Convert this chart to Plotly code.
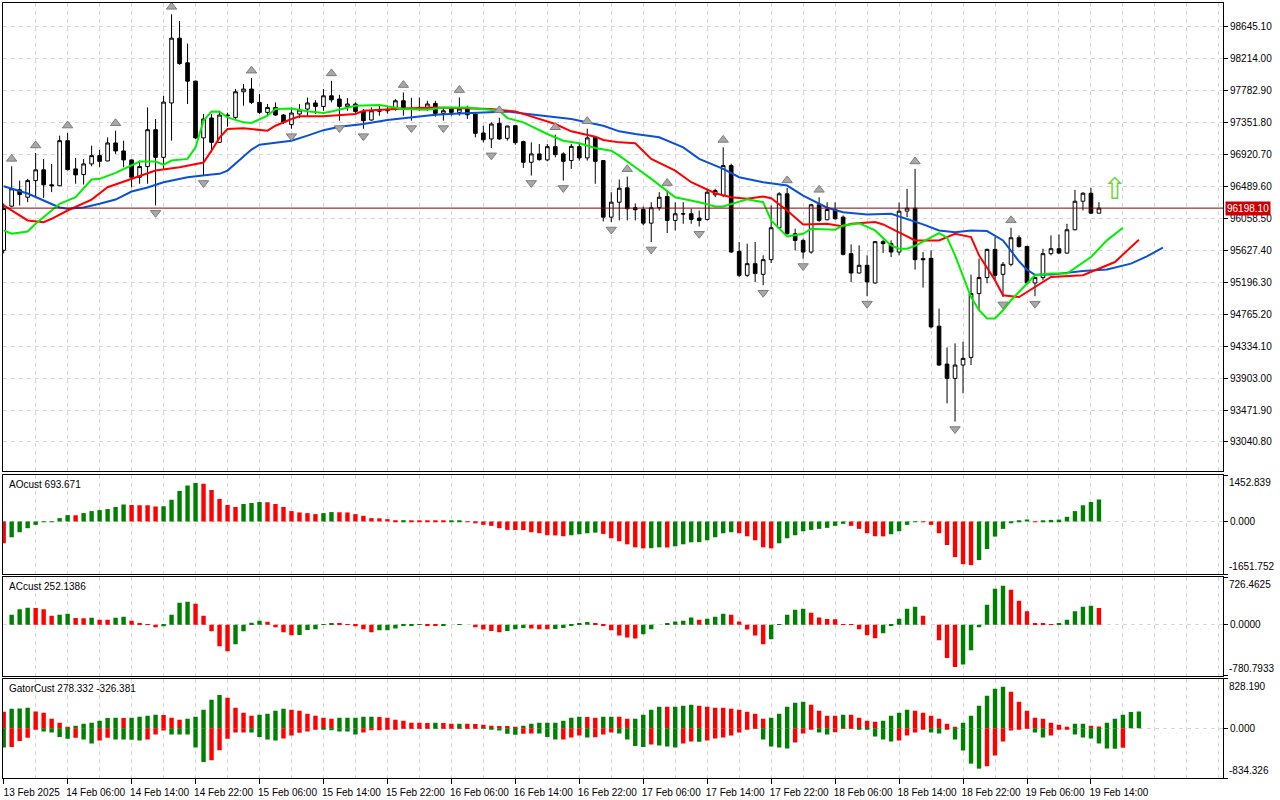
"""MT5 style H1 chart: candles, alligator, fractals and AO / AC / Gator panels."""

from __future__ import annotations

import pandas as pd
import plotly.graph_objects as go
from plotly.subplots import make_subplots

BAR_START = "2025-02-13 22:00"

OPEN = [
    95628, 96224, 96445, 96345, 96570, 96715, 96513, 96500, 97109, 96728,
    96651, 96795, 96907, 96835, 97078, 96970, 96849, 96615, 96759, 97257,
    96884, 97618, 98493, 98160, 97913, 97146, 97415, 97086, 97455, 97423,
    97769, 97806, 97626, 97491, 97558, 97455, 97325, 97469, 97536, 97618,
    97571, 97715, 97671, 97571, 97604, 97504, 97388, 97506, 97513, 97536,
    97648, 97536, 97544, 97558, 97612, 97477, 97536, 97491, 97558, 97469,
    97213, 97132, 97343, 97140, 97311, 97096, 96817, 96930, 96849, 97028,
    96930, 96840, 97028, 96876, 97154, 96840, 96076, 96278, 96472, 96203,
    96180, 95995, 96203, 96355, 96032, 96122, 96122, 96063, 96045, 96378,
    96368, 96773, 95614, 95291, 95448, 95304, 95502, 95933, 96391, 95852,
    95762, 95605, 96243, 96041, 96180, 96076, 95583, 95322, 95426, 95187,
    95745, 95718, 95605, 96157, 96197, 95516, 95520, 94604, 94092, 93899,
    94079, 94182, 95044, 95260, 95641, 95304, 95439, 95798, 95681, 95187,
    95260, 95583, 95650, 95591, 95906, 96291, 96399, 96130,
]
HIGH = [
    96261, 96763, 96570, 96593, 96944, 96863, 96795, 97177, 97213, 96876,
    96863, 97042, 96984, 97154, 97244, 97109, 96855, 96840, 97558, 97402,
    97715, 98816, 98726, 98420, 97920, 97469, 97469, 97513, 97486, 97806,
    97873, 97954, 97738, 97604, 97626, 97469, 97558, 97604, 97692, 97657,
    97806, 97917, 97729, 97684, 97626, 97536, 97558, 97604, 97567, 97671,
    97760, 97688, 97692, 97648, 97648, 97558, 97567, 97692, 97581, 97475,
    97311, 97356, 97419, 97311, 97320, 97109, 97086, 97064, 97064, 97190,
    96952, 97064, 97064, 97271, 97163, 96846, 96413, 96584, 96624, 96261,
    96220, 96278, 96413, 96436, 96278, 96278, 96193, 96166, 96459, 96459,
    97019, 96799, 95740, 95718, 95740, 95560, 96234, 96413, 96472, 95920,
    95785, 96256, 96345, 96278, 96278, 96099, 95708, 95695, 95560, 95753,
    95772, 95762, 96274, 96459, 96728, 95605, 95628, 94842, 94317, 94371,
    94393, 95300, 95516, 95650, 95807, 95470, 95933, 95830, 95688, 95268,
    95650, 95830, 95843, 95987, 96445, 96413, 96472, 96278,
]
LOW = [
    95587, 96211, 96234, 96278, 96345, 96337, 96413, 96497, 96705, 96527,
    96517, 96763, 96750, 96830, 96930, 96750, 96480, 96527, 96527, 96234,
    96728, 97109, 98133, 97604, 97132, 96638, 96952, 97078, 97298, 97402,
    97581, 97604, 97469, 97446, 97446, 97334, 97270, 97415, 97446, 97469,
    97513, 97626, 97379, 97513, 97469, 97270, 97379, 97446, 97473, 97513,
    97446, 97379, 97513, 97513, 97432, 97379, 97446, 97446, 97402, 97154,
    97086, 97011, 97122, 97109, 97055, 96741, 96638, 96840, 96830, 96884,
    96570, 96728, 96840, 96840, 96527, 96018, 96009, 96032, 96032, 96032,
    95964, 95740, 96166, 95861, 95897, 95987, 95987, 95951, 96032, 96345,
    96345, 95597, 95268, 95268, 95201, 95156, 95456, 95920, 95843, 95628,
    95516, 95583, 96009, 96032, 96045, 95560, 95201, 95314, 95008, 95179,
    95591, 95537, 95560, 96076, 95367, 95125, 94573, 94065, 93562, 93315,
    93697, 94079, 94819, 95183, 95223, 94998, 95412, 95664, 95179, 95008,
    95223, 95560, 95583, 95583, 95897, 96166, 96122, 96125,
]
CLOSE = [
    96193, 96459, 96382, 96570, 96715, 96513, 96500, 97109, 96718, 96647,
    96795, 96907, 96830, 97078, 96970, 96849, 96615, 96759, 97257, 96884,
    97630, 98493, 98150, 97913, 97146, 97402, 97086, 97455, 97446, 97769,
    97806, 97626, 97491, 97558, 97455, 97356, 97482, 97523, 97618, 97571,
    97715, 97661, 97571, 97604, 97504, 97379, 97513, 97513, 97527, 97648,
    97536, 97540, 97558, 97604, 97477, 97513, 97491, 97536, 97459, 97208,
    97122, 97334, 97132, 97307, 97082, 96817, 96930, 96853, 97028, 96921,
    96830, 97032, 96876, 97146, 96830, 96076, 96278, 96467, 96189, 96176,
    95995, 96203, 96345, 96032, 96122, 96119, 96045, 96032, 96413, 96436,
    96773, 95605, 95291, 95448, 95314, 95502, 95933, 96391, 95852, 95762,
    95605, 96243, 96032, 96180, 96054, 95574, 95322, 95426, 95201, 95745,
    95718, 95605, 96157, 96197, 95502, 95502, 94594, 94079, 93899, 94079,
    94169, 95044, 95260, 95641, 95291, 95439, 95798, 95681, 95187, 95260,
    95583, 95650, 95591, 95906, 96291, 96399, 96130, 96198.10,
]

# alligator lines, read at the listed bar numbers (they run past the last bar)
JAW_BARS = [
    0, 3, 5, 7, 8, 10, 12, 14, 16, 18, 20, 23, 26, 27, 28, 29, 30, 31, 32, 34,
    36, 38, 40, 42, 45, 48, 50, 54, 57, 60, 63, 65, 69, 71, 75, 77, 79, 82, 85, 87,
    90, 92, 95, 98, 100, 103, 105, 108, 111, 113, 115, 117, 119, 121, 123, 125, 126,
    127, 128, 129, 131, 135, 138, 141, 143, 145,
]
JAW = [
    96494, 96395, 96301, 96207, 96189, 96207, 96256, 96314, 96422, 96476,
    96548, 96615, 96651, 96661, 96705, 96799, 96894, 96988, 97055, 97082,
    97109, 97177, 97251, 97298, 97334, 97388, 97415, 97459, 97477, 97486,
    97504, 97477, 97432, 97402, 97311, 97235, 97199, 97154, 97019, 96863,
    96728, 96615, 96548, 96503, 96368, 96203, 96143, 96112, 96122, 96054,
    95978, 95897, 95874, 95897, 95888, 95762, 95628, 95480, 95365, 95298,
    95300, 95349, 95368, 95448, 95547, 95664,
]
TEETH_BARS = [
    0, 3, 5, 6, 8, 11, 13, 16, 19, 22, 24, 25, 26, 27, 28, 30, 33, 34, 36, 37,
    40, 41, 44, 45, 48, 50, 54, 58, 61, 64, 66, 69, 71, 74, 75, 77, 79, 81, 84, 86,
    89, 91, 93, 95, 96, 98, 100, 103, 105, 106, 109, 110, 112, 114, 117, 119, 121,
    122, 124, 125, 127, 129, 131, 135, 137, 139, 142,
]
TEETH = [
    96234, 96032, 96009, 96054, 96166, 96314, 96480, 96593, 96705, 96750,
    96786, 96813, 96974, 97150, 97267, 97275, 97244, 97311, 97402, 97439,
    97439, 97446, 97469, 97513, 97536, 97544, 97558, 97544, 97536, 97504,
    97432, 97334, 97235, 97163, 97119, 97086, 97073, 96863, 96705, 96548,
    96399, 96345, 96324, 96355, 96332, 96166, 95978, 95987, 95951, 95987,
    96009, 95978, 95870, 95762, 95762, 95852, 95807, 95560, 95223, 95021,
    94998, 95133, 95268, 95291, 95381, 95470, 95772,
]
LIPS_BARS = [
    0, 1, 3, 4, 7, 9, 11, 12, 14, 16, 17, 19, 20, 21, 23, 24, 25, 26, 27, 28,
    30, 31, 33, 34, 36, 38, 40, 41, 44, 47, 50, 53, 55, 58, 60, 62, 63, 65, 68, 70,
    72, 74, 76, 77, 79, 81, 84, 87, 89, 90, 93, 95, 96, 98, 100, 101, 104, 105, 107,
    109, 111, 112, 113, 114, 117, 118, 119, 120, 121, 122, 123, 124, 125, 126, 127,
    129, 131, 133, 136, 138, 140,
]
LIPS = [
    95897, 95852, 95883, 95987, 96256, 96345, 96584, 96593, 96674, 96773,
    96826, 96826, 96786, 96840, 96863, 97019, 97379, 97504, 97500, 97423,
    97356, 97348, 97446, 97536, 97544, 97507, 97482, 97504, 97581, 97590,
    97536, 97527, 97558, 97558, 97536, 97513, 97415, 97356, 97199, 97109,
    97073, 97011, 96974, 96907, 96750, 96593, 96345, 96278, 96220, 96220,
    96319, 96278, 96032, 95816, 95852, 95920, 95906, 95964, 95995, 95897,
    95695, 95650, 95650, 95688, 95861, 95799, 95560, 95291, 94998, 94819,
    94707, 94707, 94819, 94954, 95066, 95291, 95314, 95314, 95537, 95763,
    95933,
]

FRACTAL_UP_BARS = [1, 4, 8, 14, 21, 31, 41, 50, 57, 62, 69, 73, 78, 83, 90, 98, 102, 114, 126]
FRACTAL_DOWN_BARS = [19, 25, 36, 42, 45, 51, 55, 61, 66, 70, 76, 81, 87, 95, 100, 108, 119, 125, 129]

SIGNAL_BAR = 139
SIGNAL_PRICE = 96416

AO = [
    -686, -496, -338, -211, -106, -21, -5, 106, 200, 195,
    264, 327, 359, 391, 454, 538, 517, 512, 507, 475,
    480, 686, 961, 1130, 1214, 1183, 993, 707, 517, 454,
    549, 580, 612, 605, 549, 454, 327, 285, 264, 232,
    264, 296, 290, 285, 232, 179, 106, 100, 74, 40,
    42, 38, 35, 20, 15, 10, 12, 14, -5, -53,
    -106, -137, -211, -264, -268, -272, -338, -370, -433, -438,
    -465, -433, -401, -370, -350, -391, -528, -623, -718, -813,
    -845, -840, -813, -818, -781, -718, -655, -650, -591, -496,
    -370, -338, -370, -465, -591, -813, -845, -686, -528, -433,
    -306, -264, -232, -200, -137, -74, -137, -232, -370, -465,
    -468, -401, -306, -106, -15, -20, -106, -370, -739, -1119,
    -1341, -1373, -1214, -866, -475, -232, -53, 20, 63, 5,
    30, 50, 60, 148, 327, 507, 612, 693.671,
]
AC = [
    0, 152, 233, 259, 254, 233, 137, 152, 167, 101,
    99, 106, 76, 74, 106, 122, 61, 10, 8, -41,
    -25, 152, 335, 350, 320, 137, -102, -330, -406, -300,
    -102, 30, 60, 45, -41, -117, -162, -160, -81, -71,
    -5, 25, 20, -5, -25, -71, -117, -86, -84, -61,
    -20, -15, -5, -20, -22, -15, 0, 8, 0, -41,
    -76, -96, -117, -96, -71, -51, -61, -71, -72, -66,
    -51, -10, 15, 41, 25, -10, -86, -167, -198, -213,
    -147, -71, 0, 10, 46, 61, 107, 76, 91, 122,
    167, 152, 46, -76, -167, -299, -223, -5, 152, 228,
    244, 183, 107, 86, 84, 5, -2, -71, -162, -208,
    -132, -10, 91, 244, 274, 137, 0, -239, -508, -645,
    -609, -391, -41, 305, 548, 594, 533, 365, 203, 25,
    10, 5, 20, 76, 203, 274, 289, 252.1386,
]
GATOR_UP = [
    274, 325, 328, 342, 280, 258, 157, 90, 22, 39,
    73, 90, 123, 170, 175, 172, 176, 190, 207, 224,
    222, 174, 140, 157, 190, 308, 476, 554, 510, 342,
    258, 207, 224, 241, 291, 325, 308, 291, 241, 207,
    174, 157, 174, 175, 176, 190, 191, 189, 174, 140,
    123, 90, 89, 88, 90, 88, 73, 74, 73, 72,
    56, 39, 38, 37, 22, 39, 73, 90, 91, 92,
    123, 174, 190, 189, 174, 190, 191, 190, 157, 158,
    224, 308, 358, 357, 358, 375, 392, 375, 358, 342,
    341, 325, 308, 274, 241, 157, 174, 241, 358, 426,
    442, 392, 291, 207, 206, 224, 223, 174, 123, 106,
    123, 207, 258, 308, 291, 258, 207, 157, 73, 22,
    90, 207, 375, 543, 661, 694, 610, 442, 291, 174,
    157, 90, 56, 22, 73, 74, 39, 30, 90, 157,
    224, 270, 278.332,
]
GATOR_DOWN = [
    -325, -314, -213, -162, -11, -56, -73, -146, -179, -162,
    -190, -258, -207, -162, -190, -191, -192, -207, -190, -106,
    -39, -106, -107, -108, -325, -566, -538, -370, -179, -73,
    -72, -74, -146, -190, -207, -174, -123, -78, -56, -22,
    -23, -34, -56, -57, -106, -73, -34, -33, -25, -15,
    -8, -5, -5, -4, -6, -5, -4, -3, -3, -2,
    -4, -10, -39, -95, -112, -95, -88, -90, -146, -190,
    -189, -157, -123, -157, -150, -106, -73, -90, -190, -297,
    -314, -274, -291, -308, -325, -258, -224, -226, -207, -174,
    -157, -123, -73, -11, -3, -190, -308, -325, -342, -241,
    -90, -22, -73, -106, -67, -6, -3, -22, -23, -140,
    -190, -224, -207, -123, -73, -22, -73, -90, -22, -190,
    -375, -594, -678, -638, -459, -224, -39, -20, -5, -73,
    -157, -123, -22, -21, -106, -157, -174, -258, -342, -343,
    -326.381,
]

PRICE_TICKS = [
    98645.10, 98214.00, 97782.90, 97351.80, 96920.70, 96489.60, 96058.50,
    95627.40, 95196.30, 94765.20, 94334.10, 93903.00, 93471.90, 93040.80,
]
PRICE_RANGE = (92651, 98968)
AO_RANGE = (-1651.752, 1452.839)
AC_RANGE = (-780.7933, 726.4625)
GATOR_RANGE = (-834.326, 828.190)
TIME_LABELS = [
    "13 Feb 2025", "14 Feb 06:00", "14 Feb 14:00", "14 Feb 22:00", "15 Feb 06:00",
    "15 Feb 14:00", "15 Feb 22:00", "16 Feb 06:00", "16 Feb 14:00", "16 Feb 22:00",
    "17 Feb 06:00", "17 Feb 14:00", "17 Feb 22:00", "18 Feb 06:00", "18 Feb 14:00",
    "18 Feb 22:00", "19 Feb 06:00", "19 Feb 14:00",
]

GREEN = "#008000"
RED = "#ff0000"
JAW_COLOR = "#0a50d8"
TEETH_COLOR = "#ff0000"
LIPS_COLOR = "#00ee00"
FRACTAL_COLOR = "#a8a8a8"
PRICE_LINE = "#8c0000"
GRID_COLOR = "#d6d6d6"
GRID_DASH = "4px,4px"
FONT = "Liberation Sans"
HOUR_MS = 3_600_000
FRACTAL_GAP = 100  # price units between the extreme and the arrow centre

# panel heights in paper fractions (main, AO, AC, Gator)
DOMAINS = [(0.3964, 1.0), (0.2632, 0.3906), (0.1319, 0.2593), (0.0, 0.1281)]


def _hist_colors(values, use_abs: bool = False, first: str = RED) -> list[str]:
    """Green when the bar grows versus the previous one, red when it shrinks."""
    colors = []
    prev = None
    current = first
    for value in values:
        level = abs(value) if use_abs else value
        if prev is not None:
            if level > prev:
                current = GREEN
            elif level < prev:
                current = RED
        colors.append(current)
        prev = level
    return colors


def _panel_axis(fig, row: int, value_range, digits: int) -> None:
    lo, hi = value_range
    fig.update_yaxes(
        range=[lo, hi],
        tickmode="array",
        tickvals=[lo, 0, hi],
        ticktext=["", f"{0:.{digits}f}", ""],
        row=row,
        col=1,
    )
    yref = "y" if row == 1 else f"y{row}"
    for value, anchor in ((hi, "top"), (lo, "bottom")):
        fig.add_annotation(
            x=1, xref="paper", xanchor="left", xshift=4,
            y=value, yref=yref, yanchor=anchor,
            text=f"{value:.{digits}f}", showarrow=False,
            font={"size": 10, "family": FONT, "color": "#000000"},
        )


def _panel_title(fig, row: int, text: str) -> None:
    fig.add_annotation(
        x=0, xref="paper", xanchor="left", xshift=4,
        y=1, yref=f"y{row} domain", yanchor="top", yshift=-2,
        text=text, showarrow=False,
        font={"size": 10, "family": FONT, "color": "#000000"},
    )


def build_figure() -> go.Figure:
    times = pd.date_range(BAR_START, periods=len(CLOSE) + 20, freq="h")
    bars = times[: len(CLOSE)]

    fig = make_subplots(rows=4, cols=1, shared_xaxes=True, vertical_spacing=0)

    fig.add_trace(
        go.Candlestick(
            x=bars, open=OPEN, high=HIGH, low=LOW, close=CLOSE,
            whiskerwidth=0,
            increasing={"line": {"color": "#000000", "width": 1}, "fillcolor": "#ffffff"},
            decreasing={"line": {"color": "#000000", "width": 1}, "fillcolor": "#000000"},
            hoverinfo="skip",
        ),
        row=1, col=1,
    )

    for idx, values, color in (
        (JAW_BARS, JAW, JAW_COLOR),
        (TEETH_BARS, TEETH, TEETH_COLOR),
        (LIPS_BARS, LIPS, LIPS_COLOR),
    ):
        fig.add_trace(
            go.Scatter(x=times[idx], y=values, mode="lines",
                       line={"color": color, "width": 2}, hoverinfo="skip"),
            row=1, col=1,
        )

    fig.add_trace(
        go.Scatter(
            x=bars[FRACTAL_UP_BARS],
            y=[HIGH[i] + FRACTAL_GAP for i in FRACTAL_UP_BARS],
            mode="markers",
            marker={"symbol": "triangle-up", "size": 9, "color": FRACTAL_COLOR,
                    "line": {"color": "#7c7c7c", "width": 1}},
            hoverinfo="skip",
        ),
        row=1, col=1,
    )
    fig.add_trace(
        go.Scatter(
            x=bars[FRACTAL_DOWN_BARS],
            y=[LOW[i] - FRACTAL_GAP for i in FRACTAL_DOWN_BARS],
            mode="markers",
            marker={"symbol": "triangle-down", "size": 9, "color": FRACTAL_COLOR,
                    "line": {"color": "#7c7c7c", "width": 1}},
            hoverinfo="skip",
        ),
        row=1, col=1,
    )
    fig.add_trace(
        go.Scatter(
            x=[times[SIGNAL_BAR]], y=[SIGNAL_PRICE], mode="text", text=["\u21e7"],
            textfont={"size": 30, "color": "#6fd43a", "family": "DejaVu Sans"},
            hoverinfo="skip",
        ),
        row=1, col=1,
    )

    bar_width = 0.55 * HOUR_MS
    fig.add_trace(
        go.Bar(x=bars, y=AO, width=bar_width, marker_color=_hist_colors(AO),
               marker_line_width=0, hoverinfo="skip"),
        row=2, col=1,
    )
    fig.add_trace(
        go.Bar(x=bars, y=AC, width=bar_width, marker_color=_hist_colors(AC),
               marker_line_width=0, hoverinfo="skip"),
        row=3, col=1,
    )
    fig.add_trace(
        go.Bar(x=times[: len(GATOR_UP)], y=GATOR_UP, width=bar_width,
               marker_color=_hist_colors(GATOR_UP), marker_line_width=0, hoverinfo="skip"),
        row=4, col=1,
    )
    fig.add_trace(
        go.Bar(x=times[: len(GATOR_DOWN)], y=GATOR_DOWN, width=bar_width,
               marker_color=_hist_colors(GATOR_DOWN, use_abs=True, first=GREEN),
               marker_line_width=0, hoverinfo="skip"),
        row=4, col=1,
    )

    # bid line and its price tag
    last = CLOSE[-1]
    fig.add_shape(type="line", xref="x domain", yref="y", x0=0, x1=1, y0=last, y1=last,
                  line={"color": PRICE_LINE, "width": 1})
    fig.add_annotation(
        x=1, xref="paper", xanchor="left", xshift=2, y=last, yref="y",
        text=f"{last:.2f}", showarrow=False, bgcolor="#cc0000", borderpad=1,
        font={"size": 10, "family": FONT, "color": "#ffffff"},
    )

    x_start = times[0] - pd.Timedelta(minutes=5)
    x_end = x_start + pd.Timedelta(hours=152.6)
    tick_times = list(bars[:: 8][: len(TIME_LABELS)])

    fig.update_xaxes(
        range=[x_start, x_end],
        tickmode="array",
        tickvals=tick_times,
        ticktext=TIME_LABELS,
        showgrid=True,
        gridcolor=GRID_COLOR,
        griddash=GRID_DASH,
        minor={"tickmode": "linear", "tick0": BAR_START, "dtick": 4 * HOUR_MS,
               "showgrid": True, "gridcolor": GRID_COLOR, "griddash": GRID_DASH},
        showline=True,
        mirror=True,
        linecolor="#000000",
        linewidth=1,
        zeroline=False,
        showticklabels=False,
        ticks="",
        rangeslider_visible=False,
    )
    fig.update_xaxes(showticklabels=True, ticks="outside", ticklen=5, tickcolor="#000000",
                     ticklabelshift=28, tickfont={"size": 10, "family": FONT}, row=4, col=1)

    fig.update_yaxes(
        side="right",
        showgrid=True,
        gridcolor=GRID_COLOR,
        griddash=GRID_DASH,
        showline=True,
        mirror=True,
        linecolor="#000000",
        linewidth=1,
        zeroline=False,
        ticks="outside",
        ticklen=4,
        tickcolor="#000000",
        tickfont={"size": 10, "family": FONT, "color": "#000000"},
    )
    fig.update_yaxes(
        range=list(PRICE_RANGE),
        tickmode="array",
        tickvals=PRICE_TICKS,
        ticktext=[f"{v:.2f}" for v in PRICE_TICKS],
        row=1, col=1,
    )
    _panel_axis(fig, 2, AO_RANGE, 3)
    _panel_axis(fig, 3, AC_RANGE, 4)
    _panel_axis(fig, 4, GATOR_RANGE, 3)

    _panel_title(fig, 2, f"AOcust {AO[-1]:.3f}")
    _panel_title(fig, 3, f"ACcust {AC[-1]:.4f}")
    _panel_title(fig, 4, f"GatorCust {GATOR_UP[-1]:.3f} {GATOR_DOWN[-1]:.3f}")

    fig.update_layout(
        width=1280,
        height=800,
        showlegend=False,
        barmode="relative",
        boxgap=0.35,
        paper_bgcolor="#ffffff",
        plot_bgcolor="#ffffff",
        font={"family": FONT, "size": 10, "color": "#000000"},
        margin={"l": 2, "r": 57, "t": 2, "b": 21},
        yaxis={"domain": list(DOMAINS[0])},
        yaxis2={"domain": list(DOMAINS[1])},
        yaxis3={"domain": list(DOMAINS[2])},
        yaxis4={"domain": list(DOMAINS[3])},
    )
    return fig


fig = build_figure()
# the page body keeps its default 8px margin otherwise
fig.write_html(
    "out.html",
    config={"displayModeBar": False},
    post_script="document.body.style.margin = '0px';",
)
